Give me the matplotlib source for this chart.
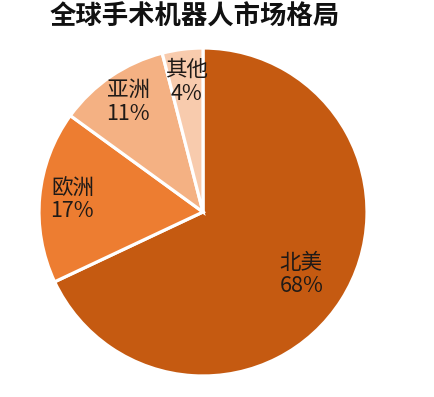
import numpy as np
import matplotlib
matplotlib.use("Agg")
import matplotlib.pyplot as plt

plt.rcParams['font.family'] = ['Noto Sans CJK SC', 'DejaVu Sans']

categories = ["北美", "欧洲", "亚洲", "其他"]
values = [68, 17, 11, 4]
colors = ["#C55A11", "#ED7D31", "#F4B183", "#F8CBAD"]
label_dist = [0.71, 0.80, 0.81, 0.80]
title = "全球手术机器人市场格局"

W, H = 435, 397
fig = plt.figure(figsize=(W / 100, H / 100), dpi=100)
ax = fig.add_axes([0, 0, 1, 1])

cx, cy, r = 203, H - 212, 164
wedges, _ = ax.pie(values, colors=colors, startangle=90, counterclock=False,
                   center=(cx, cy), radius=r, frame=True,
                   wedgeprops=dict(edgecolor="white", linewidth=2.3))
ax.set_xlim(0, W)
ax.set_ylim(0, H)
ax.axis("off")

for w, name, v, d in zip(wedges, categories, values, label_dist):
    ang = np.deg2rad((w.theta1 + w.theta2) / 2)
    x = cx + d * r * np.cos(ang)
    y = cy + d * r * np.sin(ang)
    ax.text(x, y, f"{name}\n{v}%", ha="center", va="center", fontsize=15.5,
            color="#1f1a17", linespacing=1.08)

fig.text(50 / W, 1 - 17 / H, title, ha="left", va="center", fontsize=19,
         fontweight="bold", color="#111111")

fig.savefig("out.png", dpi=100, facecolor="white")
